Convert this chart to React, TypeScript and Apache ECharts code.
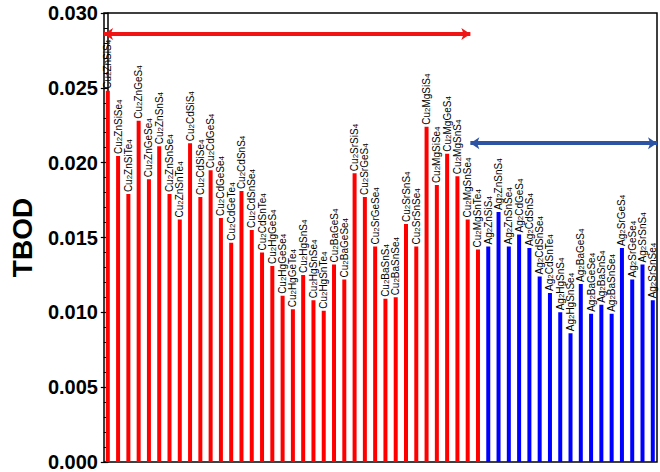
import React, { useEffect, useRef } from "react";
import * as echarts from "echarts";

const cuNames = [
  "Cu2ZnSiS4", "Cu2ZnSiSe4", "Cu2ZnSiTe4", "Cu2ZnGeS4", "Cu2ZnGeSe4", "Cu2ZnSnS4",
  "Cu2ZnSnSe4", "Cu2ZnSnTe4", "Cu2CdSiS4", "Cu2CdSiSe4", "Cu2CdGeS4", "Cu2CdGeSe4",
  "Cu2CdGeTe4", "Cu2CdSnS4", "Cu2CdSnSe4", "Cu2CdSnTe4", "Cu2HgGeS4", "Cu2HgGeSe4",
  "Cu2HgGeTe4", "Cu2HgSnS4", "Cu2HgSnSe4", "Cu2HgSnTe4", "Cu2BaGeS4", "Cu2BaGeSe4",
  "Cu2SrSiS4", "Cu2SrGeS4", "Cu2SrGeSe4", "Cu2BaSnS4", "Cu2BaSnSe4", "Cu2SrSnS4",
  "Cu2SrSnSe4", "Cu2MgSiS4", "Cu2MgSiSe4", "Cu2MgGeS4", "Cu2MgSnS4", "Cu2MgSnSe4",
  "Cu2MgSnTe4",
];
const cuValues = [
  0.0248, 0.02045, 0.0179, 0.0228, 0.0189, 0.0211,
  0.0179, 0.0162, 0.0213, 0.0177, 0.0195, 0.0163,
  0.01465, 0.0181, 0.0155, 0.0140, 0.0131, 0.0111,
  0.0102, 0.0125, 0.0108, 0.0101, 0.0132, 0.0122,
  0.0193, 0.0177, 0.0144, 0.0109, 0.0110, 0.0159,
  0.0144, 0.0224, 0.0185, 0.0206, 0.0191, 0.0162,
  0.0142,
];
const agNames = [
  "Ag2ZnSiS4", "Ag2ZnSnS4", "Ag2ZnSnSe4", "Ag2CdGeS4", "Ag2CdSnS4", "Ag2CdSnSe4",
  "Ag2CdSnTe4", "Ag2HgSnS4", "Ag2HgSnSe4", "Ag2BaGeS4", "Ag2BaGeSe4", "Ag2BaSnS4",
  "Ag2BaSnSe4", "Ag2SrGeS4", "Ag2SrGeSe4", "Ag2SrSnS4", "Ag2SrSnSe4",
];
const agValues = [
  0.0144, 0.0167, 0.0144, 0.0152, 0.0143, 0.0124,
  0.0113, 0.0100, 0.0086, 0.0119, 0.0099, 0.0105,
  0.0099, 0.0143, 0.0122, 0.0132, 0.0108,
];

const cuColor = "#ff0000";
const agColor = "#0000ff";

// turn digits of a formula into rich-text subscripts
const toRich = (s: string) => s.replace(/(\d)/g, "{s|$1}");

export default function App() {
  const ref = useRef<HTMLDivElement>(null);
  useEffect(() => {
    if (!ref.current) return;
    const chart = echarts.init(ref.current, null, { renderer: "svg" });
    const names = [...cuNames, ...agNames];
    const values = [...cuValues, ...agValues];
    const data = values.map((v, i) => ({
      value: [i, v],
      name: names[i],
      itemStyle: { color: i < cuNames.length ? cuColor : agColor },
    }));
    const lastCu = cuNames.length - 1;
    const lastIdx = names.length - 1;
    const xMin = -0.37;
    const xMax = lastIdx + 0.41;
    chart.setOption({
      animation: false,
      backgroundColor: "#fff",
      grid: {
        left: 102,
        right: 3,
        top: 13,
        bottom: 9,
        show: true,
        borderColor: "#000",
        borderWidth: 1.5,
      },
      xAxis: {
        type: "value",
        min: xMin,
        max: xMax,
        axisLine: { show: false },
        axisTick: { show: false },
        axisLabel: { show: false },
        splitLine: { show: false },
      },
      yAxis: {
        type: "value",
        min: 0,
        max: 0.03,
        interval: 0.005,
        name: "TBOD",
        nameLocation: "middle",
        nameGap: 68,
        nameTextStyle: {
          fontFamily: "Arial",
          fontWeight: "bold",
          fontSize: 28,
          color: "#000",
        },
        axisLine: { show: true, lineStyle: { color: "#000", width: 1.5 } },
        axisTick: { show: true, inside: false, length: 7, lineStyle: { color: "#000", width: 1.2 } },
        minorTick: { show: true, splitNumber: 5, length: 4, lineStyle: { color: "#000", width: 1 } },
        splitLine: { show: false },
        axisLabel: {
          formatter: (v: number) => v.toFixed(3),
          fontFamily: "Arial",
          fontWeight: "bold",
          fontSize: 20,
          color: "#000",
          margin: 6,
        },
      },
      series: [
        {
          type: "bar",
          barWidth: 4,
          data,
          label: {
            show: true,
            position: "top",
            rotate: 90,
            align: "left",
            verticalAlign: "middle",
            distance: 2,
            fontFamily: "Arial",
            fontSize: 10,
            lineHeight: 10,
            color: "#000",
            formatter: (p: any) => toRich(p.name),
            rich: {
              s: {
                fontFamily: "Arial",
                fontSize: 8,
                lineHeight: 8,
                verticalAlign: "bottom",
                padding: [4, 0, 0, 0],
                color: "#000",
              },
            },
          },
          markLine: {
            silent: true,
            symbol: ["arrow", "arrow"],
            symbolSize: [9, 9],
            label: { show: false },
            data: [
              [
                { coord: [xMin, 0.0286], lineStyle: { color: "#f01414", width: 4, type: "solid" } },
                { coord: [lastCu - 0.74, 0.0286] },
              ],
              [
                { coord: [lastCu - 0.74, 0.0213], lineStyle: { color: "#2d54a4", width: 4, type: "solid" } },
                { coord: [xMax, 0.0213] },
              ],
            ],
          },
        },
      ],
    });
    return () => chart.dispose();
  }, []);
  return (
    <div
      ref={ref}
      style={{ position: "absolute", left: 0, top: 0, width: 660, height: 472 }}
    />
  );
}
